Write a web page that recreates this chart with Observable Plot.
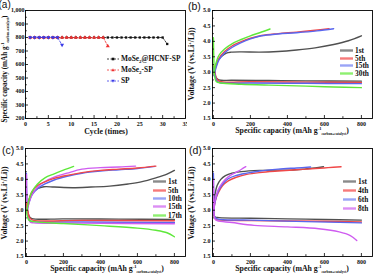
<!DOCTYPE html>
<html><head><meta charset="utf-8">
<script src="https://cdn.jsdelivr.net/npm/d3@7"></script>
<script src="https://cdn.jsdelivr.net/npm/@observablehq/plot@0.6"></script>
<style>
body{margin:0;background:#fff;}
#fig{position:relative;width:374px;height:277px;overflow:hidden;font-family:"Liberation Serif","Times New Roman",serif;background:#fff;}
.panel{position:absolute;overflow:hidden;}
.letter{position:absolute;font-family:"Liberation Sans",Arial,sans-serif;font-size:10.5px;line-height:1;color:#111;}
.letter.a{font-size:10px;}
.xt{position:absolute;transform:translate(-50%,-50%);font-weight:bold;font-size:7.8px;white-space:nowrap;line-height:1;color:#111;}
.yt{position:absolute;transform:translate(-50%,-50%) rotate(-90deg);font-weight:bold;font-size:7.8px;white-space:nowrap;line-height:1;color:#111;}
.yt.small{font-size:7.2px;}
.xt sub,.yt sub{font-size:3.6px;vertical-align:-1.5px;}
.xt sup,.yt sup{font-size:4.5px;vertical-align:3px;}
.leg{position:absolute;display:flex;align-items:center;font-weight:bold;font-size:7.4px;white-space:nowrap;line-height:1;color:#111;}
.leg svg{margin-right:2px;}
.leg sub{font-size:5px;vertical-align:-1.5px;}
</style>
</head><body>
<div id="fig">
  <div class="panel" id="pa" style="left:0;top:0;width:187px;height:138px"></div>
  <div class="panel" id="pb" style="left:187px;top:0;width:187px;height:138px"></div>
  <div class="panel" id="pc" style="left:0;top:138px;width:187px;height:139px"></div>
  <div class="panel" id="pd" style="left:187px;top:138px;width:187px;height:139px"></div>
</div>
<script>
// ---------- Panel (a) data ----------
const cycleTicks = [0, 5, 10, 15, 20, 25, 30, 35];
const capTicks = [200, 300, 400, 500, 600, 700, 800, 900, 1000];
const hcnfCapacity = [800,800,800,800,800,800,800,800,800,800,800,800,800,800,800,800,800,800,800,800,800,800,800,800,800,800,800,800,800,800,752];
const mose2Capacity = [800,800,800,800,800,800,800,800,800,800,800,800,800,800,800,800,800,737];
const spCapacity = [800,800,800,800,800,800,800,745];
const seriesA = ["MoSe2@HCNF-SP", "MoSe2-SP", "SP"];

// ---------- Voltage panels: shared ticks ----------
const capTicksV = [0, 200, 400, 600, 800];
const voltTicks = [1.5, 2.0, 2.5, 3.0, 3.5, 4.0, 4.5, 5.0];

// ---------- Panel (b) data: [capacity, voltage] ----------
const b1stCharge = [[3,2.95],[12,3.2],[25,3.38],[45,3.52],[70,3.62],[95,3.65],[150,3.66],[250,3.65],[350,3.67],[450,3.72],[550,3.79],[650,3.9],[730,4.02],[800,4.18]];
const b1stDischarge = [[0,3.2],[6,3.0],[15,2.82],[30,2.75],[100,2.74],[300,2.73],[500,2.72],[800,2.71]];
const b5thCharge = [[3,2.9],[12,3.15],[30,3.45],[60,3.67],[100,3.85],[150,3.99],[200,4.1],[260,4.19],[350,4.25],[450,4.3],[550,4.36],[625,4.41]];
const b5thDischarge = [[0,3.25],[8,3.0],[18,2.78],[35,2.7],[200,2.69],[500,2.68],[800,2.67]];
const b15thCharge = [[3,2.88],[12,3.1],[30,3.4],[60,3.62],[100,3.8],[150,3.96],[200,4.08],[260,4.18],[350,4.24],[450,4.28],[560,4.34],[650,4.41]];
const b15thDischarge = [[0,3.15],[8,2.92],[18,2.72],[35,2.66],[200,2.65],[500,2.64],[800,2.63]];
const b30thCharge = [[3,2.95],[12,3.25],[30,3.55],[60,3.75],[100,3.92],[150,4.06],[200,4.18],[250,4.28],[306,4.4]];
const b30thDischarge = [[0,4.12],[2,3.5],[6,2.9],[15,2.7],[40,2.65],[150,2.61],[300,2.58],[500,2.55],[650,2.52],[800,2.5]];
const bLabels = ["1st", "5th", "15th", "30th"];

// ---------- Panel (c) data ----------
const c1stCharge = [[3,3.05],[12,3.3],[30,3.55],[60,3.7],[95,3.76],[150,3.75],[250,3.73],[350,3.75],[450,3.78],[550,3.85],[620,3.92],[700,4.05],[760,4.17],[800,4.29]];
const c1stDischarge = [[0,3.2],[6,3.0],[15,2.8],[30,2.73],[200,2.72],[500,2.71],[800,2.7]];
const c5thCharge = [[3,3.0],[12,3.3],[30,3.6],[60,3.8],[100,3.92],[150,4.03],[220,4.13],[300,4.22],[400,4.29],[500,4.33],[600,4.37],[700,4.43]];
const c5thDischarge = [[0,3.25],[8,2.95],[18,2.75],[35,2.68],[300,2.67],[800,2.66]];
const c10thCharge = [[3,2.95],[12,3.2],[30,3.5],[60,3.7],[100,3.85],[150,3.98],[220,4.1],[300,4.2],[400,4.27],[500,4.31],[600,4.35],[695,4.42]];
const c10thDischarge = [[0,4.2],[2,3.5],[8,2.85],[20,2.66],[40,2.63],[300,2.62],[800,2.6]];
const c15thCharge = [[3,2.95],[12,3.2],[30,3.5],[60,3.75],[100,3.93],[150,4.07],[220,4.2],[300,4.33],[400,4.38],[500,4.4],[590,4.43]];
const c15thDischarge = [[0,4.15],[2,3.4],[8,2.8],[20,2.62],[40,2.59],[300,2.58],[800,2.56]];
const c17thCharge = [[3,3.0],[12,3.3],[30,3.6],[60,3.85],[100,4.05],[150,4.18],[200,4.3],[255,4.42]];
const c17thDischarge = [[0,3.0],[5,2.8],[15,2.67],[40,2.63],[200,2.57],[400,2.5],[600,2.42],[700,2.35],[760,2.27],[800,2.14]];
const cLabels = ["1st", "5th", "10th", "15th", "17th"];

// ---------- Panel (d) data ----------
const d1stCharge = [[2,3.1],[8,3.5],[20,3.8],[40,4.0],[65,4.12],[100,4.2],[150,4.25],[250,4.29],[350,4.3],[420,4.3],[500,4.34],[550,4.37],[595,4.41]];
const d1stDischarge = [[0,2.85],[8,2.78],[30,2.76],[200,2.74],[400,2.72],[600,2.7],[800,2.68]];
const d4thCharge = [[2,3.0],[10,3.3],[25,3.55],[50,3.8],[80,3.95],[120,4.06],[180,4.16],[250,4.22],[350,4.27],[450,4.31],[550,4.35],[620,4.38],[690,4.41]];
const d4thDischarge = [[0,3.1],[5,2.8],[15,2.7],[40,2.68],[300,2.66],[600,2.64],[800,2.62]];
const d6thCharge = [[2,3.0],[10,3.3],[25,3.6],[50,3.85],[80,4.02],[120,4.12],[180,4.2],[250,4.27],[350,4.33],[450,4.37],[525,4.4]];
const d6thDischarge = [[0,4.2],[2,3.4],[6,2.8],[20,2.72],[200,2.68],[500,2.63],[800,2.59]];
const d8thCharge = [[2,3.0],[10,3.35],[25,3.65],[50,3.9],[80,4.08],[120,4.22],[150,4.32],[175,4.41]];
const d8thDischarge = [[0,4.0],[2,3.2],[8,2.72],[20,2.66],[100,2.6],[220,2.51],[400,2.46],[570,2.4],[680,2.3],[740,2.18],[775,2.02]];
const dLabels = ["1st", "4th", "6th", "8th"];

// ---------- colours ----------
const GRAY = "#505050", RED = "#f04848", BLUE = "#5a66ee", GREEN = "#5ee83a", VIOLET = "#cf5cf0";
const LGRAY = "#8a8a8a", LRED = "#f67a7a", LBLUE = "#9aa4f6", LGREEN = "#8ef070", LVIOLET = "#dc8ef4";

function halves(ticks) {
  const out = [];
  for (let i = 0; i < ticks.length - 1; i++) out.push((ticks[i] + ticks[i + 1]) / 2);
  return out;
}

function makePanel(id, {h, xDomain, yDomain, xTicks, yTicks, yFormat, yPad = 2, marks}) {
  const mt = 10, mb = h - 10 - 108, ml = 25, mr = 2;
  const innerH = h - mt - mb, innerW = 187 - ml - mr;
  const chart = Plot.plot({
    width: 187, height: h,
    marginTop: mt, marginBottom: mb, marginLeft: ml, marginRight: mr,
    x: {domain: xDomain},
    y: {domain: yDomain},
    style: {fontFamily: "Liberation Serif, serif", fontWeight: "bold", fontSize: "6px", background: "transparent", color: "#111", overflow: "visible"},
    marks: [
      ...marks,
      Plot.tickX(xTicks, {x: d => d, insetTop: innerH - 3, stroke: "#000", strokeWidth: 0.8}),
      Plot.tickX(halves(xTicks), {x: d => d, insetTop: innerH - 1.8, stroke: "#000", strokeWidth: 0.8}),
      Plot.tickY(yTicks, {y: d => d, insetRight: innerW - 3, stroke: "#000", strokeWidth: 0.8}),
      Plot.tickY(halves(yTicks), {y: d => d, insetRight: innerW - 1.8, stroke: "#000", strokeWidth: 0.8}),
      Plot.axisX({ticks: xTicks, tickSize: 0, tickPadding: 3, label: null}),
      Plot.axisY({ticks: yTicks, tickSize: 0, tickPadding: yPad, label: null, tickFormat: yFormat}),
      Plot.frame({stroke: "#000", strokeWidth: 0.9})
    ]
  });
  document.getElementById(id).appendChild(chart);
}

function curve(data, color, w = 1.4) {
  return Plot.line(data, {x: d => d[0], y: d => d[1], stroke: color, strokeWidth: w, curve: "catmull-rom"});
}

// ---------- (a) ----------
const idx = arr => arr.map((v, i) => ({cycle: i + 1, cap: v}));
const aBlack = idx(hcnfCapacity), aRed = idx(mose2Capacity), aBlue = idx(spCapacity);
makePanel("pa", {
  h: 138, xDomain: [0, 35], yDomain: [200, 1000], xTicks: cycleTicks, yTicks: capTicks, yFormat: d => d, yPad: 1,
  marks: [
    Plot.line(aBlack, {x: "cycle", y: "cap", stroke: "#111", strokeWidth: 0.8, strokeDasharray: "2,1.5"}),
    Plot.dot(aBlack, {x: "cycle", y: "cap", symbol: "square", r: 1.3, fill: "#111"}),
    Plot.line(aRed, {x: "cycle", y: "cap", stroke: "#ee3030", strokeWidth: 0.8, strokeDasharray: "2,1.5"}),
    Plot.dot(aRed, {x: "cycle", y: "cap", symbol: "triangle", r: 1.5, fill: "#ee3030"}),
    Plot.line(aBlue, {x: "cycle", y: "cap", stroke: "#3a3ae8", strokeWidth: 0.8, strokeDasharray: "2,1.5"}),
    Plot.dot(aBlue, {x: "cycle", y: "cap", symbol: "triangle", rotate: 180, r: 1.5, fill: "#3a3ae8"})
  ]
});

// ---------- (b) ----------
makePanel("pb", {
  h: 138, xDomain: [-5, 860], yDomain: [1.5, 5.0], xTicks: capTicksV, yTicks: voltTicks, yFormat: d3.format(".1f"),
  marks: [
    curve(b1stCharge, GRAY), curve(b1stDischarge, GRAY),
    curve(b5thCharge, RED), curve(b5thDischarge, RED),
    curve(b15thCharge, BLUE), curve(b15thDischarge, BLUE),
    curve(b30thCharge, GREEN), curve(b30thDischarge, GREEN)
  ]
});

// ---------- (c) ----------
makePanel("pc", {
  h: 139, xDomain: [-5, 860], yDomain: [1.5, 5.0], xTicks: capTicksV, yTicks: voltTicks, yFormat: d3.format(".1f"),
  marks: [
    curve(c1stCharge, GRAY), curve(c1stDischarge, GRAY),
    curve(c10thCharge, BLUE), curve(c10thDischarge, BLUE),
    curve(c15thCharge, VIOLET), curve(c15thDischarge, VIOLET),
    curve(c5thCharge, RED), curve(c5thDischarge, RED),
    curve(c17thCharge, GREEN), curve(c17thDischarge, GREEN)
  ]
});

// ---------- (d) ----------
makePanel("pd", {
  h: 139, xDomain: [-5, 860], yDomain: [1.5, 5.0], xTicks: capTicksV, yTicks: voltTicks, yFormat: d3.format(".1f"),
  marks: [
    curve(d1stCharge, GRAY), curve(d1stDischarge, GRAY),
    curve(d4thCharge, RED), curve(d4thDischarge, RED),
    curve(d6thCharge, BLUE), curve(d6thDischarge, BLUE),
    curve(d8thCharge, VIOLET), curve(d8thDischarge, VIOLET)
  ]
});

// ---------- text overlays ----------
const fig = document.getElementById("fig");
function add(html, cls, left, top) {
  const el = document.createElement("div");
  el.className = cls; el.innerHTML = html;
  el.style.left = left + "px"; el.style.top = top + "px";
  fig.appendChild(el);
  return el;
}
const capTitle = "Specific capacity (mAh g<sup>-1</sup><sub>carbon+catalyst</sub>)";
const voltTitle = "Voltage (V (vs.Li<sup>+</sup>/Li))";

add("(a)", "letter a", -1.5, 0);
add("(b)", "letter", 188, 1);
add("(c)", "letter", 2, 145);
add("(d)", "letter", 189, 145);

add("Cycle (times)", "xt", 106, 132);
add(capTitle, "yt small", 6, 69);
add(capTitle, "xt", 292, 132);
add(voltTitle, "yt", 192, 64);
add(capTitle, "xt", 107, 270);
add(voltTitle, "yt", 5, 203);
add(capTitle, "xt", 292, 270);
add(voltTitle, "yt", 192, 203);

// legend (a)
const aLegendColors = ["#111", "#ee3030", "#3a3ae8"];
const aLegendSym = [
  '<rect x="4.7" y="1.7" width="2.6" height="2.6" fill="#111"/>',
  '<path d="M6,1.3 L7.6,4.3 L4.4,4.3Z" fill="#ee3030"/>',
  '<path d="M6,4.7 L7.6,1.7 L4.4,1.7Z" fill="#3a3ae8"/>'
];
const aLegendHtml = ["MoSe<sub>2</sub>@HCNF-SP", "MoSe<sub>2</sub>-SP", "SP"];
seriesA.forEach((s, i) => {
  const svg = `<svg width="12" height="6"><line x1="0" y1="3" x2="12" y2="3" stroke="${aLegendColors[i]}" stroke-width="0.8" stroke-dasharray="2,1.5"/>${aLegendSym[i]}</svg>`;
  add(svg + `<span>${aLegendHtml[i]}</span>`, "leg", 107, [55, 66, 77][i]);
});

function lineLegend(labels, colors, left, tops) {
  labels.forEach((s, i) => {
    const svg = `<svg width="13" height="5"><line x1="0" y1="2.5" x2="13" y2="2.5" stroke="${colors[i]}" stroke-width="2.4"/></svg>`;
    add(svg + `<span>${s}</span>`, "leg", left, tops[i]);
  });
}
lineLegend(bLabels, [LGRAY, LRED, LBLUE, LGREEN], 340, [47, 54.5, 62, 70]);
lineLegend(cLabels, [LGRAY, LRED, LBLUE, LVIOLET, LGREEN], 153, [178, 186.5, 195, 203, 211.5]);
lineLegend(dLabels, [LGRAY, LRED, LBLUE, LVIOLET], 343, [178, 187, 196, 205]);
</script>
</body></html>
